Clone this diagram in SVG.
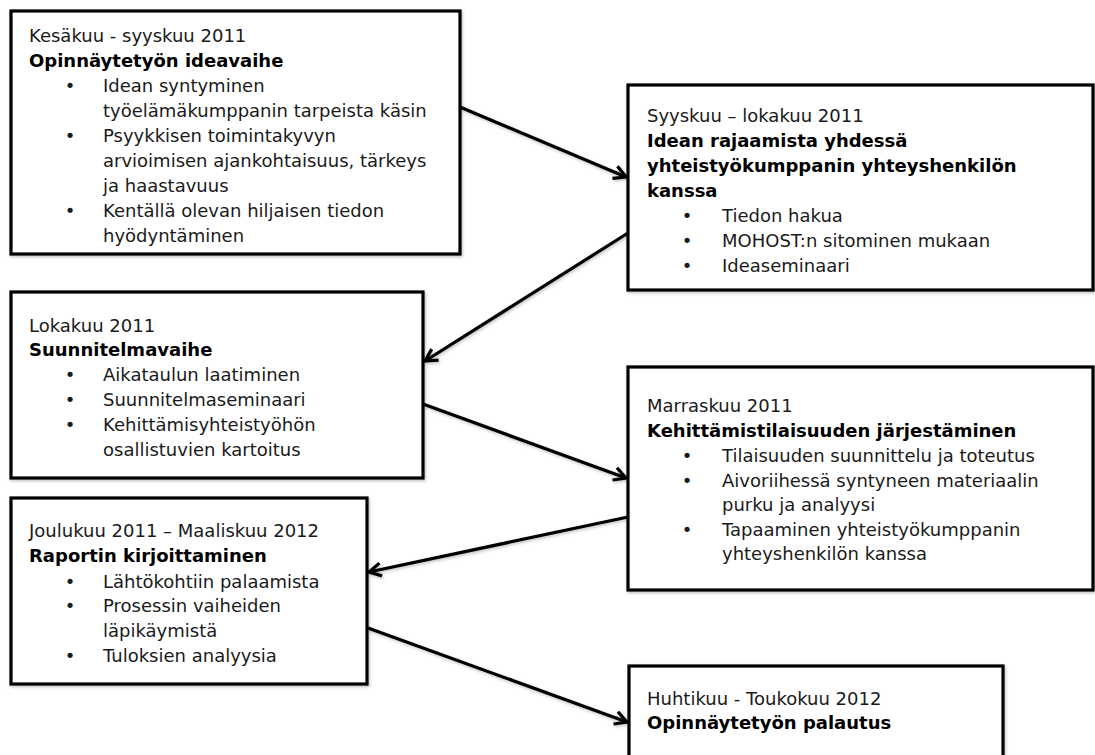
<svg xmlns="http://www.w3.org/2000/svg" width="1095" height="755" viewBox="0 0 1095 755">
<style>
.box{fill:#fff;stroke:#000;stroke-width:3.2}
.t{font-family:"DejaVu Sans",Verdana,sans-serif;font-size:18px;fill:#1a1a1a}
.b{font-family:"DejaVu Sans",Verdana,sans-serif;font-size:18px;font-weight:bold;fill:#000}
.bu{text-anchor:middle}
.c{stroke:#000;stroke-width:3.2;fill:none}
</style>
<defs>
<filter id="sh" x="-5%" y="-5%" width="110%" height="110%">
<feDropShadow dx="1" dy="1.5" stdDeviation="1.5" flood-color="#000" flood-opacity="0.25"/>
</filter>
<marker id="ah" viewBox="0 0 16 16" refX="14" refY="8" markerWidth="16" markerHeight="16" markerUnits="userSpaceOnUse" orient="auto">
<path d="M2,1.5 L14,8 L2,14.5" fill="none" stroke="#000" stroke-width="3.2" stroke-linejoin="miter"/>
</marker>
</defs>
<rect width="1095" height="755" fill="#fff"/>

<g id="connectors" filter="url(#sh)">
<line class="c" x1="460" y1="107" x2="626" y2="177" marker-end="url(#ah)"/>
<line class="c" x1="628" y1="233" x2="425" y2="361" marker-end="url(#ah)"/>
<line class="c" x1="423" y1="404" x2="626" y2="478" marker-end="url(#ah)"/>
<line class="c" x1="628" y1="517" x2="369" y2="572" marker-end="url(#ah)"/>
<line class="c" x1="368" y1="628" x2="627" y2="722" marker-end="url(#ah)"/>
</g>

<g id="node1">
<rect class="box" x="11" y="11" width="449" height="243" filter="url(#sh)"/>
<text class="t" x="29" y="42">Kesäkuu - syyskuu 2011</text>
<text class="b" x="29" y="67">Opinnäytetyön ideavaihe</text>
<text class="t bu" x="70" y="92">•</text>
<text class="t" x="103" y="92">Idean syntyminen</text>
<text class="t" x="103" y="117">työelämäkumppanin tarpeista käsin</text>
<text class="t bu" x="70" y="142">•</text>
<text class="t" x="103" y="142">Psyykkisen toimintakyvyn</text>
<text class="t" x="103" y="167">arvioimisen ajankohtaisuus, tärkeys</text>
<text class="t" x="103" y="192">ja haastavuus</text>
<text class="t bu" x="70" y="217">•</text>
<text class="t" x="103" y="217">Kentällä olevan hiljaisen tiedon</text>
<text class="t" x="103" y="242">hyödyntäminen</text>
</g>

<g id="node2">
<rect class="box" x="628" y="85" width="465" height="205" filter="url(#sh)"/>
<text class="t" x="647" y="122">Syyskuu – lokakuu 2011</text>
<text class="b" x="647" y="147">Idean rajaamista yhdessä</text>
<text class="b" x="647" y="172">yhteistyökumppanin yhteyshenkilön</text>
<text class="b" x="647" y="197">kanssa</text>
<text class="t bu" x="687" y="222">•</text>
<text class="t" x="722" y="222">Tiedon hakua</text>
<text class="t bu" x="687" y="247">•</text>
<text class="t" x="722" y="247">MOHOST:n sitominen mukaan</text>
<text class="t bu" x="687" y="272">•</text>
<text class="t" x="722" y="272">Ideaseminaari</text>
</g>

<g id="node3">
<rect class="box" x="11" y="292" width="412" height="186" filter="url(#sh)"/>
<text class="t" x="29" y="332">Lokakuu 2011</text>
<text class="b" x="29" y="356">Suunnitelmavaihe</text>
<text class="t bu" x="70" y="381">•</text>
<text class="t" x="103" y="381">Aikataulun laatiminen</text>
<text class="t bu" x="70" y="406">•</text>
<text class="t" x="103" y="406">Suunnitelmaseminaari</text>
<text class="t bu" x="70" y="431">•</text>
<text class="t" x="103" y="431">Kehittämisyhteistyöhön</text>
<text class="t" x="103" y="456">osallistuvien kartoitus</text>
</g>

<g id="node4">
<rect class="box" x="628" y="367" width="465" height="223" filter="url(#sh)"/>
<text class="t" x="647" y="412">Marraskuu 2011</text>
<text class="b" x="647" y="437">Kehittämistilaisuuden järjestäminen</text>
<text class="t bu" x="687" y="462">•</text>
<text class="t" x="722" y="462">Tilaisuuden suunnittelu ja toteutus</text>
<text class="t bu" x="687" y="487">•</text>
<text class="t" x="722" y="487">Aivoriihessä syntyneen materiaalin</text>
<text class="t" x="722" y="511">purku ja analyysi</text>
<text class="t bu" x="687" y="536">•</text>
<text class="t" x="722" y="536">Tapaaminen yhteistyökumppanin</text>
<text class="t" x="722" y="560">yhteyshenkilön kanssa</text>
</g>

<g id="node5">
<rect class="box" x="11" y="498" width="356" height="186" filter="url(#sh)"/>
<text class="t" x="29" y="537">Joulukuu 2011 – Maaliskuu 2012</text>
<text class="b" x="29" y="562">Raportin kirjoittaminen</text>
<text class="t bu" x="70" y="588">•</text>
<text class="t" x="103" y="588">Lähtökohtiin palaamista</text>
<text class="t bu" x="70" y="612">•</text>
<text class="t" x="103" y="612">Prosessin vaiheiden</text>
<text class="t" x="103" y="637">läpikäymistä</text>
<text class="t bu" x="70" y="662">•</text>
<text class="t" x="103" y="662">Tuloksien analyysia</text>
</g>

<g id="node6">
<rect class="box" x="629" y="666" width="374" height="130" filter="url(#sh)"/>
<text class="t" x="647" y="705">Huhtikuu - Toukokuu 2012</text>
<text class="b" x="647" y="729">Opinnäytetyön palautus</text>
</g>
</svg>
